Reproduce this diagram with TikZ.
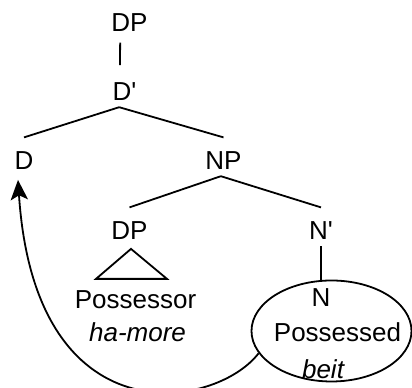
\documentclass[tikz,border=0pt]{standalone}
\usepackage{fontspec}
\setsansfont{Liberation Sans}
\usetikzlibrary{shapes.geometric,arrows.meta}

\begin{document}
\begin{tikzpicture}[x=0.75pt,y=0.75pt,line width=1.35pt,font=\sffamily\fontsize{19.5}{23}\selectfont,cat/.style={anchor=base,inner sep=0pt,text height=23.25pt,text depth=4.5pt},word/.style={anchor=base,inner sep=0pt}]

\useasboundingbox (0,0) rectangle (412,388);

\node[cat] (DPtop) at (129.5,356.2) {DP};
\node[cat] (Dbar) at (124.5,287.7) {D\textquotesingle};
\node[cat] (D) at (24,218.7) {D};
\node[cat] (NP) at (223.5,218.7) {NP};
\node[cat] (DPposs) at (129.5,148.7) {DP};
\node[cat] (Nbar) at (321,148.7) {N\textquotesingle};

\node[word] (possr) at (135.5,79) {Possessor};
\node[word] (hamore) at (137.5,46) {\textit{ha-more}};

\node[ellipse, draw, minimum width=120pt, minimum height=75.75pt, inner sep=0pt] (possd) at (331.5,57) {};
\node[word] (N) at (321,81) {N};
\node[word] (possdtxt) at (337.5,46) {Possessed};
\node[word] (beit) at (323.5,9) {\textit{beit}};

\draw ([xshift=-7pt,yshift=-3pt]DPtop.south) -- ([xshift=-3.4pt,yshift=2.5pt]Dbar.north);
\draw ([xshift=-4pt]Dbar.south) -- (D.north);
\draw ([xshift=-4pt]Dbar.south) -- (NP.north);
\draw ([xshift=-2pt]NP.south) -- (DPposs.north);
\draw ([xshift=-2pt]NP.south) -- (Nbar.north);
\draw (Nbar.south) -- (Nbar.south |- possd.north);

\draw ([shift={(1.5,-2.7)}]DPposs.south) -- ++(-35,-30) -- ++(71,0) -- cycle;

\draw[-{Stealth[length=15pt,width=13pt,inset=3.5pt]}] (possd.197) .. controls (215,-22) and (35,-52) .. ([xshift=-4.5pt,yshift=-2.8pt]D.south);

\end{tikzpicture}
\end{document}
